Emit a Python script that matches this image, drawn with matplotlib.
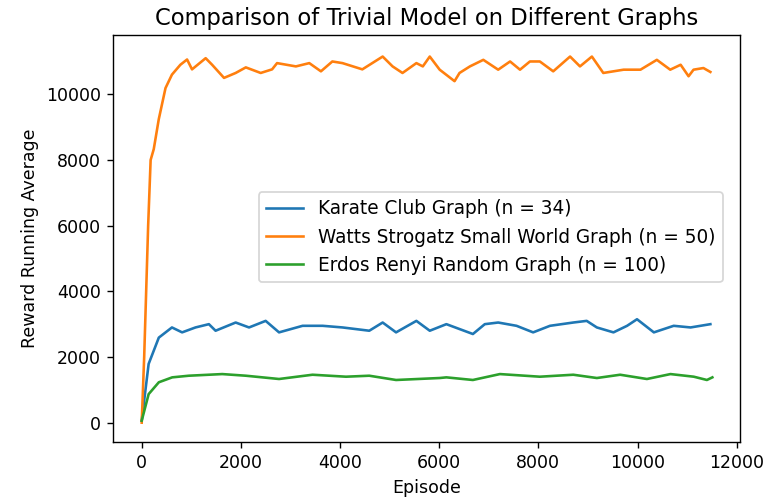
import numpy as np
import matplotlib
matplotlib.use("Agg")
import matplotlib.pyplot as plt

# values
karate_ep = [0, 140, 345, 610, 815, 1085, 1355, 1490, 1895, 2165, 2500, 2770, 3245,
             3650, 4050, 4590, 4860, 5130, 5540, 5810, 6145, 6680, 6920, 7190, 7560,
             7895, 8235, 8705, 8975, 9180, 9515, 9790, 9990, 10330, 10730, 11070, 11470]
karate_avg = [60, 1790, 2590, 2900, 2750, 2900, 3000, 2800, 3050, 2900, 3100, 2750, 2950,
              2950, 2900, 2800, 3050, 2750, 3100, 2800, 3000, 2700, 3000, 3050, 2950,
              2750, 2950, 3050, 3100, 2900, 2750, 2950, 3150, 2750, 2950, 2900, 3000]

watts_ep = [0, 50, 90, 130, 180, 243, 344, 480, 610, 780, 915, 1015, 1290, 1420, 1660,
            1895, 2100, 2400, 2630, 2730, 3110, 3380, 3615, 3845, 4050, 4450, 4860, 5060,
            5260, 5540, 5670, 5810, 6010, 6310, 6410, 6620, 6890, 7190, 7430, 7630, 7830,
            8030, 8300, 8640, 8840, 9080, 9310, 9720, 10060, 10390, 10660, 10870, 11030,
            11130, 11330, 11470]
watts_avg = [0, 2000, 4000, 6000, 8000, 8330, 9240, 10190, 10600, 10900, 11060, 10760,
             11100, 10900, 10500, 10650, 10820, 10650, 10760, 10950, 10850, 10950, 10700,
             11000, 10950, 10760, 11150, 10850, 10650, 10950, 10850, 11150, 10750, 10400,
             10650, 10850, 11050, 10750, 11000, 10750, 11000, 11000, 10700, 11150, 10850,
             11150, 10650, 10750, 10750, 11050, 10750, 10900, 10550, 10750, 10800, 10680]

erdos_ep = [0, 140, 345, 615, 950, 1625, 2100, 2770, 3445, 4120, 4590, 5130, 6010, 6145,
            6680, 7225, 8030, 8705, 9180, 9650, 10190, 10665, 11135, 11400, 11510]
erdos_avg = [60, 870, 1230, 1380, 1430, 1480, 1430, 1330, 1460, 1400, 1430, 1300, 1360,
             1380, 1300, 1480, 1400, 1460, 1360, 1460, 1330, 1480, 1400, 1300, 1380]

labels = ["Karate Club Graph (n = 34)",
          "Watts Strogatz Small World Graph (n = 50)",
          "Erdos Renyi Random Graph (n = 100)"]


def main():
    fig = plt.figure(figsize=(6.12, 4.024), dpi=125)
    ax = fig.add_axes([0.1481, 0.1219, 0.8192, 0.8085])

    ax.plot(karate_ep, karate_avg, color="C0", label=labels[0])
    ax.plot(watts_ep, watts_avg, color="C1", label=labels[1])
    ax.plot(erdos_ep, erdos_avg, color="C2", label=labels[2])

    ax.set_xlim(-573, 12067)
    ax.set_ylim(-579, 11806)
    ax.set_xticks(np.arange(0, 12001, 2000))
    ax.set_yticks(np.arange(0, 10001, 2000))

    ax.set_title("Comparison of Trivial Model on Different Graphs", fontsize=13)
    ax.set_xlabel("Episode")
    ax.set_ylabel("Reward Running Average")
    ax.legend(loc="center right", bbox_to_anchor=(0.973, 0.503),
              borderaxespad=0, fontsize=10.7)

    fig.savefig("out.png", dpi=125)


if __name__ == "__main__":
    main()
